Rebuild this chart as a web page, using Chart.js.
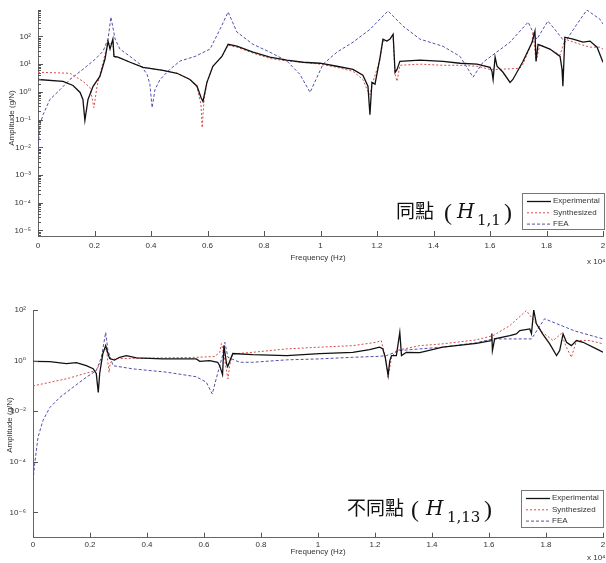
<!DOCTYPE html>
<html><head><meta charset="utf-8">
<script src="https://cdn.jsdelivr.net/npm/chart.js@4.4.0/dist/chart.umd.min.js"></script>
<style>
html,body{margin:0;padding:0;background:#fff;}
#wrap{position:relative;width:606px;height:563px;overflow:hidden;background:#fff;}
canvas{position:absolute;left:0;}
#c1{top:0;} #c2{top:285px;}
</style></head><body>
<div id="wrap">
<canvas id="c1" width="606" height="285"></canvas>
<canvas id="c2" width="606" height="278"></canvas>
</div>
<script>
// ---------- DATA (frequency in Hz, amplitude in g/N) ----------
const seriesNames = ['Experimental', 'Synthesized', 'FEA'];
const xTickHz = [0,2000,4000,6000,8000,10000,12000,14000,16000,18000,20000];
const xTickLabels = ['0','0.2','0.4','0.6','0.8','1','1.2','1.4','1.6','1.8','2'];
const topYTicks = [1e-5,1e-4,1e-3,1e-2,1e-1,1,10,100];
const bottomYTicks = [1e-6,1e-4,1e-2,1,100];

// Top chart: H(1,1)
const topExpHz  = [0,885,1240,1490,1590,1660,1770,1950,2190,2370,2480,2550,2650,2690,2830,3260,3720,4420,4920,5380,5630,5770,5840,5980,6190,6510,6730,7040,7610,8210,8810,9380,9980,10580,11150,11500,11680,11750,11820,11930,12110,12210,12350,12460,12570,12640,12710,12810,13520,14340,14940,15540,16000,16070,16110,16180,16250,16460,16710,16810,17170,17490,17590,17630,17700,18120,18480,18550,18580,18650,18940,19290,19540,19790,20000];
const topExpAmp = [2.8,2.4,1.7,0.95,0.53,0.093,0.53,1.58,3.6,15,68,35,80,19,18,11.7,7.7,6.0,4.7,2.8,1.6,0.63,0.45,2.2,8.4,19,52,45,27,18,14,11.7,10.8,8.4,6.5,4,1.6,0.15,2.2,1.9,18,80,68,80,120,5,6.5,12.7,14,12.7,10.8,10,7.7,5.5,2.8,18,8.4,5.1,2.2,2.8,12.7,62,155,12.7,52,35,19,6.5,1.6,94,80,62,68,41,11.7];
const topSynHz  = [0,1130,1590,1840,1980,2090,2300,2480,2550,2650,2690,2830,3260,3720,4420,4920,5380,5630,5770,5810,5880,5980,6190,6510,6730,7040,7610,8210,8810,9380,9980,10580,11150,11500,11650,11750,11850,12110,12210,12350,12460,12570,12640,12710,12810,13520,14340,14940,15540,16000,16350,17060,17170,17490,17520,17630,17770,18120,18480,18650,19190,19540,19890,20000];
const topSynAmp = [5.1,4.7,2.4,1.45,0.27,1.6,11.7,62,52,68,18,18,11.7,7.7,6.0,4.7,2.8,1.45,0.35,0.051,0.53,2.2,8.4,19,48,41,25,16,13,11.7,10,7.7,5.5,2.8,1.2,0.8,2.2,15,68,68,80,110,4.3,2.4,9.1,10,9.1,9.1,8.4,6.5,6.5,7.1,10,62,144,12.7,52,35,21,80,52,41,41,35];
const topFeaHz  = [0,70,180,420,780,1130,1590,2020,2300,2480,2580,2730,2900,3260,3610,3860,3960,4040,4140,4320,4670,5030,5560,6090,6440,6730,7040,7610,8210,8810,9270,9630,10090,10580,11150,11750,12390,12920,13520,14340,14940,15400,15750,16710,17350,17590,17660,18050,18370,18650,19080,19430,19890,20000];
const topFeaAmp = [0.0083,0.066,0.15,0.53,1.2,2.8,6.5,15,29,80,500,80,35,19,10,4.3,1.9,0.27,1.2,2.8,6.5,13,19,35,180,760,144,52,27,13,4.3,0.96,10,27,62,180,830,235,80,44,19,3.4,11.7,62,330,100,80,360,144,62,280,900,420,280];

// Bottom chart: H(1,13)
const botExpHz  = [0,590,1170,1520,1870,2110,2220,2290,2340,2450,2550,2620,2690,2860,3040,3280,3630,4550,5730,5850,6200,6480,6550,6650,6700,6790,6830,7010,7710,8900,10060,11220,11810,12160,12270,12360,12460,12520,12580,12750,12870,12930,13100,13570,14380,15560,16080,16100,16120,16200,16730,16960,17080,17430,17490,17570,17660,17880,18130,18370,18480,18600,18720,18890,19070,19300,19770,20000];
const botExpAmp = [0.93,0.91,0.76,0.83,0.63,0.48,0.31,0.055,0.31,1.9,3.9,2.1,1.2,1.05,1.35,1.58,1.28,1.17,1.17,0.94,1.0,0.86,0.63,0.28,3.9,0.76,0.58,1.9,1.73,1.58,1.9,2.13,2.7,3.4,2.98,1.35,0.26,1.0,1.58,1.58,13,1.58,2.13,2.07,3.4,4.8,6.2,11.7,2.5,7.2,9.7,11.4,15.3,17.9,11.7,100,29,11.4,4.6,1.58,2.5,11.4,5.3,3.9,6.2,5.3,2.9,2.13];
const botSynHz  = [0,1170,1990,2220,2400,2490,2580,2620,2670,2710,2870,4090,5740,6370,6550,6610,6690,6760,6840,6900,7010,7710,8900,10060,11220,12050,12220,12360,12460,12580,12750,13570,14380,15560,16140,16730,17310,17620,17880,18250,18540,18690,18890,19070,19530,20000];
const botSynAmp = [0.1,0.19,0.35,0.4,1.0,2.5,3,1,0.34,0.83,1.2,1.25,1.35,1.45,2.07,4.7,2.07,0.63,0.19,0.63,1.84,2.13,2.9,3.4,3.9,5.3,6.2,1.35,0.22,1.35,2.5,3.9,4.6,6.6,9.7,24,95,33,13,6.2,11.7,3.9,1.35,6.2,6.2,4.6];
const botFeaHz  = [0,60,175,350,590,940,1400,1870,2220,2400,2550,2630,2810,3510,4680,5730,6080,6290,6490,6650,6730,6840,7250,7710,8900,10060,11220,12160,12400,12870,13570,14380,15560,16140,17490,17950,19000,20000];
const botFeaAmp = [1.8e-5,8.5e-5,9.3e-4,4.3e-3,0.014,0.035,0.087,0.22,0.4,1.35,13,2.5,0.63,0.47,0.35,0.23,0.14,0.048,0.35,1.58,5.3,1.35,0.86,0.86,1.07,1.17,1.35,1.48,1.58,2.5,2.9,3.4,5.1,7.2,7.2,45,15,7.2];

// ---------- helpers ----------
const SUP = {'-':'\u207B','0':'\u2070','1':'\u00B9','2':'\u00B2','3':'\u00B3','4':'\u2074','5':'\u2075','6':'\u2076','7':'\u2077','8':'\u2078','9':'\u2079'};
const isDecade = v => Math.abs(Math.log10(v) - Math.round(Math.log10(v))) < 1e-6;
const decadeLabel = v => isDecade(v) ? '10' + String(Math.round(Math.log10(v))).split('').map(c => SUP[c]).join('') : '';
const pts = (hz, amp) => hz.map((f, i) => ({x: f, y: amp[i]}));
const FONT = '"Liberation Sans", Arial, "DejaVu Sans", sans-serif';
const styles = [
  {borderColor:'#111', borderWidth:1.3, borderDash:[]},
  {borderColor:'rgb(215,75,75)', borderWidth:1, borderDash:[2,2]},
  {borderColor:'rgb(80,80,170)', borderWidth:1, borderDash:[3,2]}
];

const tickPlugin = {
  id: 'inticks',
  afterDraw(chart, args, o) {
    const ctx = chart.ctx, a = chart.chartArea, xs = chart.scales.x, ys = chart.scales.y;
    ctx.save(); ctx.strokeStyle = '#555'; ctx.lineWidth = 1; ctx.beginPath();
    xs.ticks.forEach(t => { const p = Math.round(xs.getPixelForValue(t.value)) + 0.5; ctx.moveTo(p, a.bottom); ctx.lineTo(p, a.bottom - 5); });
    (o.yTicks || []).forEach(v => {
      if (v < ys.min * 0.999 || v > ys.max * 1.001) return;
      const p = Math.round(ys.getPixelForValue(v)) + 0.5; const L = isDecade(v) ? 5 : 3;
      ctx.moveTo(a.left, p); ctx.lineTo(a.left + L, p);
    });
    ctx.stroke(); ctx.restore();
  }
};

const textPlugin = {
  id: 'texts',
  afterDraw(chart, args, o) {
    const ctx = chart.ctx;
    ctx.save();
    ctx.fillStyle = '#333'; ctx.textAlign = 'center'; ctx.textBaseline = 'middle';
    ctx.font = '8px ' + FONT;
    ctx.fillText('Frequency (Hz)', o.xTitle[0], o.xTitle[1]);
    ctx.textAlign = 'left';
    ctx.fillText('x 10\u2074', o.exp[0], o.exp[1]);
    ctx.save(); ctx.translate(o.yTitle[0], o.yTitle[1]); ctx.rotate(-Math.PI / 2);
    ctx.textAlign = 'center'; ctx.fillText('Amplitude (g/N)', 0, 0); ctx.restore();
    // legend box
    const L = o.legend;
    ctx.fillStyle = '#fff'; ctx.fillRect(L.x, L.y, L.w, L.h);
    ctx.strokeStyle = '#777'; ctx.lineWidth = 1; ctx.strokeRect(L.x + 0.5, L.y + 0.5, L.w, L.h);
    chart.data.datasets.forEach((d, i) => {
      const yy = L.y + L.row0 + i * L.dy;
      ctx.save(); ctx.strokeStyle = d.borderColor; ctx.lineWidth = d.borderWidth; ctx.setLineDash(d.borderDash);
      ctx.beginPath(); ctx.moveTo(L.x + 5, yy + 0.5); ctx.lineTo(L.x + 29, yy + 0.5); ctx.stroke(); ctx.restore();
      ctx.fillStyle = '#333'; ctx.textAlign = 'left'; ctx.textBaseline = 'middle'; ctx.font = '8px ' + FONT;
      ctx.fillText(d.label, L.x + 31, yy);
    });
    // annotation
    ctx.fillStyle = '#111'; ctx.textBaseline = 'alphabetic'; ctx.textAlign = 'left';
    o.note.forEach(s => { ctx.font = s.font; ctx.fillText(s.text, s.x, s.y); });
    ctx.restore();
  }
};

function makeChart(id, data, cfg) {
  const minor = [];
  if (cfg.minor) {
    for (let e = -7; e <= 3; e++) for (let m = 1; m <= 9; m++) { const v = m * Math.pow(10, e); if (v >= cfg.yMin && v <= cfg.yMax) minor.push(v); }
  }
  const yTickAll = cfg.minor ? minor : cfg.yTicks;
  return new Chart(document.getElementById(id), {
    type: 'line',
    data: {
      datasets: data.map((d, i) => Object.assign({
        label: seriesNames[i], data: d, pointRadius: 0, tension: 0, fill: false
      }, styles[i]))
    },
    options: {
      responsive: false, animation: false, devicePixelRatio: 1,
      layout: {padding: {left: 0, right: cfg.padRight, top: cfg.areaTop, bottom: 0}},
      plugins: {
        legend: {display: false}, tooltip: {enabled: false},
        inticks: {yTicks: yTickAll},
        texts: cfg.texts
      },
      scales: {
        x: {
          type: 'linear', min: 0, max: 20000,
          afterBuildTicks: s => { s.ticks = xTickHz.map(v => ({value: v})); },
          afterFit: s => { s.height = cfg.xHeight; s.paddingLeft = 0; s.paddingRight = 0; },
          grid: {display: false, drawTicks: false},
          border: {display: true, color: '#666', width: 1},
          ticks: {autoSkip: false, maxRotation: 0, padding: cfg.xPad, color: '#333', font: {family: FONT, size: 8},
                  callback: (v) => { const i = xTickHz.indexOf(v); return i >= 0 ? xTickLabels[i] : ''; }}
        },
        y: {
          type: 'logarithmic', min: cfg.yMin, max: cfg.yMax,
          afterBuildTicks: s => { s.ticks = cfg.yTicks.map(v => ({value: v})); },
          afterFit: s => { s.width = cfg.left; s.paddingTop = 0; s.paddingBottom = 0; },
          grid: {display: false, drawTicks: false},
          border: {display: true, color: '#666', width: 1},
          ticks: {autoSkip: false, padding: 7, color: '#333', font: {family: FONT, size: 8}, callback: v => decadeLabel(v)}
        }
      }
    },
    plugins: [tickPlugin, textPlugin]
  });
}

const CJK = '19px "Noto Sans CJK TC", "Noto Sans CJK SC", sans-serif';
const HF = 'italic 20px "DejaVu Serif", "Liberation Serif", serif';
const SF = '15px "DejaVu Serif", "Liberation Serif", serif';
const PF = '24px "Liberation Serif", "DejaVu Serif", serif';

makeChart('c1', [pts(topExpHz, topExpAmp), pts(topSynHz, topSynAmp), pts(topFeaHz, topFeaAmp)], {
  yMin: 6.3e-6, yMax: 900, yTicks: topYTicks, minor: true,
  left: 38, padRight: 3, areaTop: 10, xHeight: 49, xPad: 5,
  texts: {
    xTitle: [318, 258], exp: [587, 262], yTitle: [12, 118],
    legend: {x: 522, y: 193, w: 82, h: 36, row0: 8, dy: 11.3},
    note: [
      {text: '同點', font: CJK, x: 396, y: 218},
      {text: '(', font: PF, x: 444, y: 220},
      {text: 'H', font: HF, x: 457, y: 218},
      {text: '1,1', font: SF, x: 477, y: 225},
      {text: ')', font: PF, x: 504, y: 220}
    ]
  }
});

makeChart('c2', [pts(botExpHz, botExpAmp), pts(botSynHz, botSynAmp), pts(botFeaHz, botFeaAmp)], {
  yMin: 1e-7, yMax: 100, yTicks: bottomYTicks, minor: false,
  left: 33, padRight: 3, areaTop: 25, xHeight: 25.3, xPad: 2,
  texts: {
    xTitle: [318, 267], exp: [587, 273], yTitle: [10, 140],
    legend: {x: 521, y: 205, w: 82, h: 37, row0: 8, dy: 11.3},
    note: [
      {text: '不同點', font: CJK, x: 347, y: 230},
      {text: '(', font: PF, x: 411, y: 232},
      {text: 'H', font: HF, x: 426, y: 230},
      {text: '1,13', font: SF, x: 447, y: 237},
      {text: ')', font: PF, x: 484, y: 232}
    ]
  }
});
</script>
</body></html>
